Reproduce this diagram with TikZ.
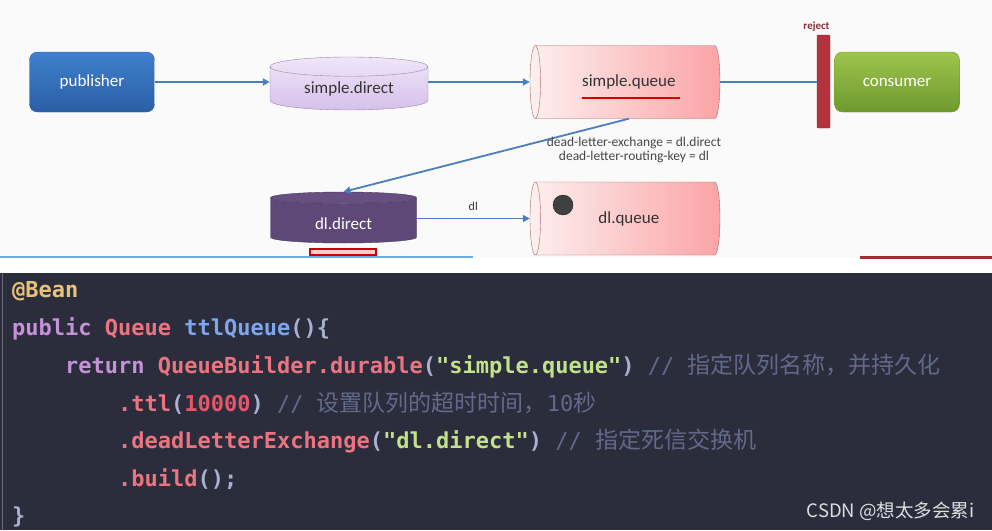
\documentclass[tikz,border=0pt]{standalone}
\usepackage{fontspec}
\setmainfont{Carlito}
\setmonofont{DejaVu Sans Mono}
\newfontfamily\cjk{Noto Sans CJK SC}
\usetikzlibrary{positioning,arrows.meta,shapes.geometric}
\definecolor{flow}{HTML}{4A7EBE}
\definecolor{pubtop}{HTML}{3F80CC}
\definecolor{pubbot}{HTML}{2B5FA6}
\definecolor{contop}{HTML}{9DC44C}
\definecolor{conbot}{HTML}{6D992E}
\definecolor{exlight}{HTML}{EFE6F8}
\definecolor{exdark}{HTML}{D6C0EB}
\definecolor{exedge}{HTML}{9C86B4}
\definecolor{dlbody}{HTML}{5E4878}
\definecolor{dlend}{HTML}{674F82}
\definecolor{qlight}{HTML}{FDEFEF}
\definecolor{qdark}{HTML}{FBA4A6}
\definecolor{qedge}{HTML}{A8686C}
\definecolor{rejred}{HTML}{B3323B}
\definecolor{rejtxt}{HTML}{8B2E36}
\definecolor{ink}{HTML}{333333}
\definecolor{codebg}{HTML}{2B2D3C}
\definecolor{anno}{HTML}{E9C27A}
\definecolor{kwpurple}{HTML}{C592D8}
\definecolor{typered}{HTML}{EC7480}
\definecolor{fnblue}{HTML}{7FA6E8}
\definecolor{punct}{HTML}{A9B0D0}
\definecolor{strgreen}{HTML}{C3E08A}
\definecolor{numred}{HTML}{E4566C}
\definecolor{cmt}{HTML}{62698A}
\newcommand{\ckw}[1]{{\color{kwpurple}#1}}
\newcommand{\cty}[1]{{\color{typered}#1}}
\newcommand{\cfn}[1]{{\color{fnblue}#1}}
\newcommand{\cpn}[1]{{\color{punct}#1}}
\newcommand{\cstr}[1]{{\color{strgreen}#1}}
\newcommand{\cnum}[1]{{\color{numred}#1}}
\newcommand{\ccmt}[1]{{\color{cmt}\mdseries#1}}

\begin{document}
\begin{tikzpicture}[x=1pt,y=-1pt,
    flowline/.style={draw=flow,line width=1.8pt,-{Triangle[length=7pt,width=7pt]}},
    roundbox/.style={rounded corners=8pt,minimum width=125,minimum height=60,text=white,font=\fontsize{17}{20}\selectfont},
    exchange/.style={cylinder,shape border rotate=90,anchor=shape center,text height=12pt,text depth=4pt,font=\fontsize{17}{20}\selectfont},
    queue/.style={cylinder,shape border rotate=180,anchor=shape center,aspect=0.5,draw=qedge,left color=qlight,right color=qdark,
      minimum width=73,minimum height=190,text=ink,font=\fontsize{17}{20}\selectfont},
    codeline/.style={anchor=base west,inner sep=0,font=\ttfamily\bfseries\fontsize{22}{26}\selectfont}]
  \useasboundingbox (0,0) rectangle (992,530);
  % slide and editor backgrounds
  \fill[white] (0,0) rectangle (992,530);
  \fill[black!2] (0,0) rectangle (992,257);
  \draw[cyan!70!blue!60,line width=1.5pt] (0,257) -- (473,257);
  \fill[rejred!90!black] (860,256) rectangle (992,259);
  \fill[codebg] (0,273) rectangle (992,530);
  \draw[codebg!70!white,line width=1pt] (2,273) -- (2,530);

  % diagram
  \node[roundbox,draw=pubbot,top color=pubtop,bottom color=pubbot] (pub) at (92,82) {publisher};
  \node[exchange,aspect=0.2,draw=exedge,top color=exlight,bottom color=exdark,text=ink,
    minimum width=158,minimum height=53] (sdirect) at (349,83.5) {simple.direct};
  \node[queue] (squeue) at (625,82) {simple.queue};
  \node[fill=rejred,draw=rejred!80!black,rounded corners=1pt,minimum width=13,minimum height=93,inner sep=0] (rejectbar) at (823.5,81.5) {};
  \node[text=rejtxt,font=\bfseries\fontsize{11}{13}\selectfont,above=0pt of rejectbar,xshift=-7pt] (rejlbl) {reject};
  \node[roundbox,draw=conbot,top color=contop,bottom color=conbot] (cons) at (897,82) {consumer};
  \node[exchange,aspect=0.18,draw=dlbody!80!black,cylinder uses custom fill,cylinder body fill=dlbody,
    cylinder end fill=dlend,text=white,minimum width=146,minimum height=51] (ldirect) at (343.5,217.5) {\raisebox{-4pt}{dl.direct}};
  \node[queue] (dlqueue) at (625,218.5) {dl.queue};
  \node[circle,fill=black!75,draw=black!85,minimum size=20,inner sep=0] (msg) at (563,205) {};

  \draw[red!85!black,line width=2.5pt] (582,98) -- (680,98);
  \draw[red!80!black,fill=red!20,line width=1.2pt] (310,249) rectangle (376,255);

  \draw[flowline] (pub.east) -- (pub.east -| sdirect.west);
  \draw[flowline] (sdirect.east |- squeue.west) -- (squeue.west);
  \draw[draw=flow,line width=1.8pt] (squeue.east) -- (squeue.east -| rejectbar.west);
  \draw[flowline] (squeue.south) -- (ldirect.north);
  \draw[flowline] (ldirect.east |- dlqueue.west) -- node[above=4pt,text=ink,font=\fontsize{12}{14}\selectfont] (dlkey) {dl} (dlqueue.west);
  \node[align=center,text=ink!90,font=\fontsize{13.5}{13.5}\selectfont] (dlxlbl) at (634,150)
    {dead-letter-exchange = dl.direct\\dead-letter-routing-key = dl};

  % code
  \node[codeline] (bean) at (12,297) {\color{anno}@Bean};
  \node[codeline] (sig) at (12,335) {\ckw{public} \cty{Queue} \cfn{ttlQueue}\cpn{()\{}};
  \node[codeline] (ret) at (65,373) {\ckw{return} \cty{QueueBuilder.durable}\cpn{(}\cstr{"simple.queue"}\cpn{)} \ccmt{// {\cjk\fontsize{23}{26}\selectfont 指定队列名称，并持久化}}};
  \node[codeline] (ttl) at (118,411) {\cty{.ttl}\cpn{(}\cnum{10000}\cpn{)} \ccmt{// {\cjk\fontsize{23}{26}\selectfont 设置队列的超时时间，}10{\cjk\fontsize{23}{26}\selectfont 秒}}};
  \node[codeline] (dlx) at (118,448) {\cty{.deadLetterExchange}\cpn{(}\cstr{"dl.direct"}\cpn{)} \ccmt{// {\cjk\fontsize{23}{26}\selectfont 指定死信交换机}}};
  \node[codeline] (build) at (118,486) {\cty{.build}\cpn{();}};
  \node[codeline] (close) at (12,523) {\cpn{\}}};
  \node[anchor=base east,text=black!13,font=\cjk\fontsize{18.5}{20}\selectfont] (mark) at (978,517) {CSDN @想太多会累i};
\end{tikzpicture}
\end{document}
